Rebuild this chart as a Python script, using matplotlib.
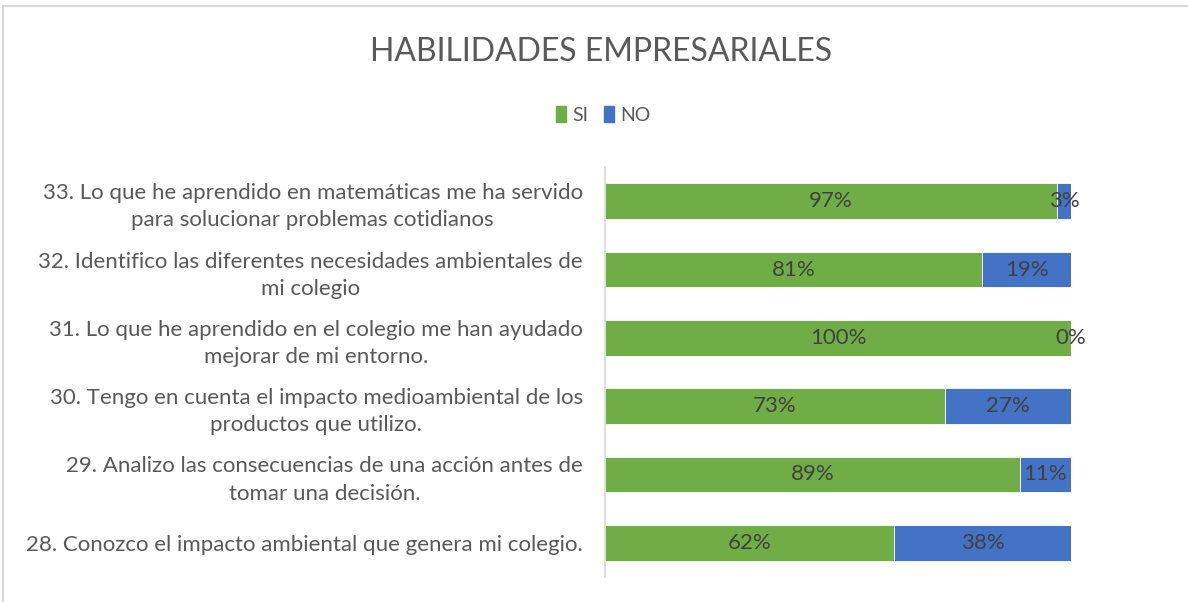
import matplotlib.pyplot as plt
from matplotlib.patches import Rectangle, Patch

# Colores tipo Office
GREEN = '#70AD47'
BLUE = '#4472C4'
TEXT = '#595959'
LABEL = '#404040'

categories = [
    "28. Conozco el impacto ambiental que genera mi colegio.",
    "29. Analizo las consecuencias de una acción antes de\ntomar una decisión.",
    "30. Tengo en cuenta el impacto medioambiental de los\nproductos que utilizo.",
    "31. Lo que he aprendido en el colegio me han ayudado\nmejorar de mi entorno.",
    "32. Identifico las diferentes necesidades ambientales de\nmi colegio",
    "33. Lo que he aprendido en matemáticas me ha servido\npara solucionar problemas cotidianos",
]
si = [62, 89, 73, 100, 81, 97]
no = [38, 11, 27, 0, 19, 3]

plt.rcParams['font.family'] = ['Lato', 'DejaVu Sans']

fig = plt.figure(figsize=(11.88, 6.02), dpi=100)
fig.patch.set_facecolor('white')
fig.patches.append(Rectangle((3 / 1188, -0.02), 1.1, 1 - 6 / 602 + 0.02,
                             transform=fig.transFigure, fill=False,
                             edgecolor='#D9D9D9', linewidth=1.5))

ax = fig.add_axes([605 / 1188, 1 - 577 / 602, 466 / 1188, 410 / 602])
y = range(len(categories))
ax.barh(y, si, height=0.52, color=GREEN, edgecolor='white', linewidth=0.6)
ax.barh(y, no, left=si, height=0.52, color=BLUE, edgecolor='white', linewidth=0.6)

for i in y:
    ax.text(si[i] / 2, i, f"{si[i]}%", ha='center', va='center', fontsize=16, color=LABEL)
    ax.text(si[i] + no[i] / 2, i, f"{no[i]}%", ha='center', va='center', fontsize=16, color=LABEL)

ax.set_xlim(0, 100)
ax.set_ylim(-0.5, len(categories) - 0.5)
ax.set_yticks(list(y))
ax.set_yticklabels(categories, fontsize=16, color=TEXT, ha='right',
                   multialignment='center', linespacing=1.45)
ax.tick_params(axis='y', length=0, pad=16)
ax.set_xticks([])
for s in ['top', 'right', 'bottom']:
    ax.spines[s].set_visible(False)
ax.spines['left'].set_color('#D9D9D9')
ax.spines['left'].set_linewidth(1.2)

fig.text(601 / 1188, 1 - 52 / 602, "HABILIDADES EMPRESARIALES", ha='center', va='center',
         fontsize=23, color=TEXT)
fig.legend(handles=[Patch(color=GREEN, label='SI'), Patch(color=BLUE, label='NO')],
           loc='center', bbox_to_anchor=(603 / 1188, 1 - 115 / 602), ncol=2, frameon=False,
           fontsize=14, handlelength=0.55, handleheight=0.85, handletextpad=0.3,
           columnspacing=0.8, labelcolor=TEXT)

fig.savefig('out.png', dpi=100, facecolor='white')
